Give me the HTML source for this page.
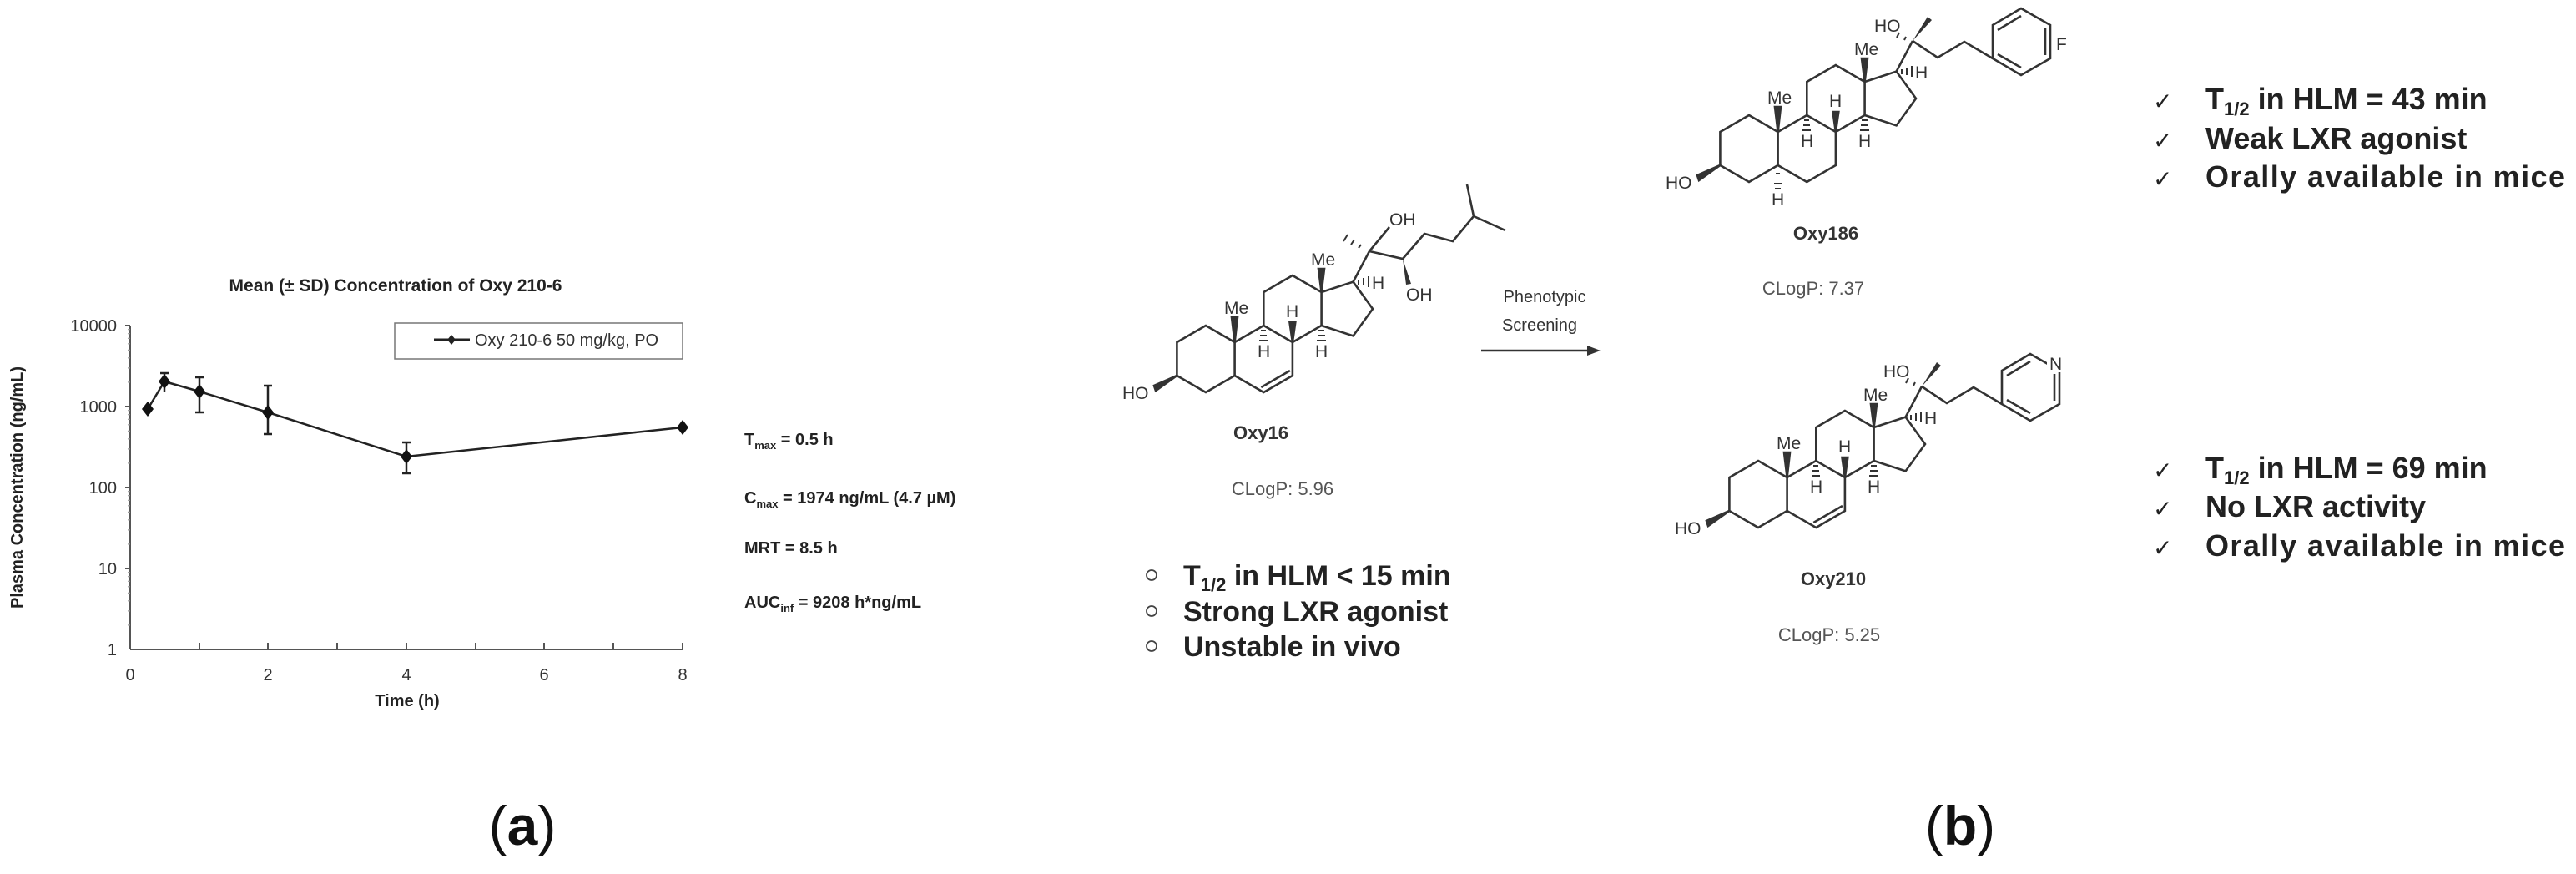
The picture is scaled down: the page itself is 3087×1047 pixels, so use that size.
<!DOCTYPE html>
<html><head><meta charset="utf-8"><style>
html,body{margin:0;padding:0;background:#fff;}
svg{display:block;}
text{font-family:"Liberation Sans",sans-serif;}
</style></head><body>
<svg width="3087" height="1047" viewBox="0 0 3087 1047" xmlns="http://www.w3.org/2000/svg">
<defs>
<g id="ster" stroke="#333" stroke-width="2.6" fill="none">
  <polyline points="34.6,-20 0,-40 -34.6,-20 -34.6,20 0,40 34.6,20 34.6,-20"/>
  <polyline points="34.6,-20 69.3,-40 103.9,-20 103.9,20 69.3,40 34.6,20"/>
  <polyline points="69.3,-40 69.3,-80 103.9,-100 138.6,-80 138.6,-40 103.9,-20"/>
  <polyline points="138.6,-80 176.6,-92.4 200,-60 176.6,-27.6 138.6,-40"/>
  <line x1="176.6" y1="-92.4" x2="196" y2="-129"/>
  <polygon points="-34.6,20 -62,32 -60,38" fill="#333"/>
  <polygon points="34.6,-20 31,-50 38,-50" fill="#333"/>
  <polygon points="138.6,-80 135,-108 142,-108" fill="#333"/>
  <polygon points="103.9,-20 100.5,-44 107.3,-44" fill="#333"/>
  <g stroke-width="2">
   <line x1="66" y1="-34" x2="72" y2="-34"/><line x1="65" y1="-28" x2="73" y2="-28"/><line x1="64" y1="-22" x2="74" y2="-22"/>
   <line x1="135" y1="-34" x2="142" y2="-34"/><line x1="134" y1="-28" x2="143" y2="-28"/><line x1="133" y1="-22" x2="144" y2="-22"/>
   <line x1="183" y1="-95" x2="183" y2="-89"/><line x1="189" y1="-97" x2="189" y2="-88"/><line x1="195" y1="-99" x2="195" y2="-86"/>
  </g>
</g>
<g id="stxt" fill="#333" stroke="none" font-size="21">
  <text x="-100" y="48">HO</text>
  <text x="22" y="-54">Me</text>
  <text x="126" y="-112">Me</text>
  <text x="96" y="-50">H</text>
  <text x="62" y="-2">H</text>
  <text x="131" y="-2">H</text>
  <text x="199" y="-84">H</text>
</g>
</defs>

<!-- ===== (a) plot ===== -->
<text x="474" y="349" font-size="21" font-weight="bold" text-anchor="middle" fill="#222">Mean (± SD) Concentration of Oxy 210-6</text>
<g stroke="#555" stroke-width="2" fill="none">
  <line x1="156" y1="390" x2="156" y2="778"/>
  <line x1="156" y1="778" x2="818" y2="778"/>
  <line x1="150" y1="390" x2="156" y2="390"/><line x1="150" y1="487" x2="156" y2="487"/>
  <line x1="150" y1="584" x2="156" y2="584"/><line x1="150" y1="681" x2="156" y2="681"/>
  <line x1="156" y1="778" x2="156" y2="770"/><line x1="239" y1="778" x2="239" y2="770"/>
  <line x1="321" y1="778" x2="321" y2="770"/><line x1="404" y1="778" x2="404" y2="770"/>
  <line x1="487" y1="778" x2="487" y2="770"/><line x1="570" y1="778" x2="570" y2="770"/>
  <line x1="652" y1="778" x2="652" y2="770"/><line x1="735" y1="778" x2="735" y2="770"/>
  <line x1="818" y1="778" x2="818" y2="770"/>
</g>
<g stroke="#999" stroke-width="1.2">
  <path d="M153 748.9h3M153 731.9h3M153 719.8h3M153 710.4h3M153 702.8h3M153 696.3h3M153 690.7h3M153 685.7h3
           M153 651.9h3M153 634.9h3M153 622.8h3M153 613.4h3M153 605.8h3M153 599.3h3M153 593.7h3M153 588.7h3
           M153 554.9h3M153 537.9h3M153 525.8h3M153 516.4h3M153 508.8h3M153 502.3h3M153 496.7h3M153 491.7h3
           M153 457.9h3M153 440.9h3M153 428.8h3M153 419.4h3M153 411.8h3M153 405.3h3M153 399.7h3M153 394.7h3"/>
</g>
<g font-size="20" fill="#333" text-anchor="end">
  <text x="140" y="397">10000</text><text x="140" y="494">1000</text>
  <text x="140" y="591">100</text><text x="140" y="688">10</text><text x="140" y="785">1</text>
</g>
<g font-size="20" fill="#333" text-anchor="middle">
  <text x="156" y="815">0</text><text x="321" y="815">2</text><text x="487" y="815">4</text>
  <text x="652" y="815">6</text><text x="818" y="815">8</text>
</g>
<text x="488" y="846" font-size="20" font-weight="bold" fill="#222" text-anchor="middle">Time (h)</text>
<text transform="translate(27,584) rotate(-90)" font-size="20" font-weight="bold" fill="#222" text-anchor="middle">Plasma Concentration (ng/mL)</text>
<rect x="473" y="387" width="345" height="43" fill="#fff" stroke="#777" stroke-width="1.5"/>
<line x1="520" y1="407" x2="563" y2="407" stroke="#222" stroke-width="3"/>
<polygon points="541,401 546,407 541,413 536,407" fill="#222"/>
<text x="569" y="414" font-size="20" fill="#333">Oxy 210-6 50 mg/kg, PO</text>
<g stroke="#222" stroke-width="2.5" fill="none">
  <polyline points="197,457 239,469 321,494 487,547 818,512"/>
  <line x1="177" y1="490" x2="197" y2="457"/>
  <path d="M197 447V469M192 447h10M239 452V494M234 452h10M234 494h10M321 462V520M316 462h10M316 520h10M487 530V567M482 530h10M482 567h10"/>
</g>
<g fill="#111">
  <polygon points="177,481 184,490 177,499 170,490"/>
  <polygon points="197,448 204,457 197,466 190,457"/>
  <polygon points="239,460 246,469 239,478 232,469"/>
  <polygon points="321,485 328,494 321,503 314,494"/>
  <polygon points="487,538 494,547 487,556 480,547"/>
  <polygon points="818,503 825,512 818,521 811,512"/>
</g>
<g font-size="20" font-weight="bold" fill="#222">
  <text x="892" y="533">T<tspan font-size="13" dy="5">max</tspan><tspan dy="-5"> = 0.5 h</tspan></text>
  <text x="892" y="603">C<tspan font-size="13" dy="5">max</tspan><tspan dy="-5"> = 1974 ng/mL (4.7 µM)</tspan></text>
  <text x="892" y="663">MRT = 8.5 h</text>
  <text x="892" y="728">AUC<tspan font-size="13" dy="5">inf</tspan><tspan dy="-5"> = 9208 h*ng/mL</tspan></text>
</g>
<text x="626" y="1012" font-size="66" font-family="Liberation Serif" fill="#111" text-anchor="middle">(<tspan font-weight="bold">a</tspan>)</text>

<!-- ===== (b) ===== -->
<g transform="translate(1445,430)">
  <use href="#ster"/><use href="#stxt"/>
  <line x1="69.3" y1="40" x2="103.9" y2="20" stroke="#333" stroke-width="2.6" transform="translate(-3,-6)"/>
  <g stroke="#333" stroke-width="2.6" fill="none">
    <polyline points="196,-129 236,-120 262,-150 296,-141 321,-171 313,-209"/>
    <line x1="321" y1="-171" x2="359" y2="-154"/>
    <line x1="196" y1="-129" x2="220" y2="-158"/>
  </g>
  <g stroke="#333" stroke-width="2"><line x1="186" y1="-137" x2="183" y2="-133"/><line x1="178" y1="-143" x2="174" y2="-137"/><line x1="170" y1="-149" x2="165" y2="-141"/></g>
  <polygon points="236,-120 246,-90 240,-89" fill="#333"/>
  <g fill="#333" font-size="21"><text x="220" y="-160">OH</text><text x="240" y="-70">OH</text></g>
</g>
<text x="1511" y="526" font-size="22" font-weight="bold" fill="#333" text-anchor="middle">Oxy16</text>
<text x="1537" y="593" font-size="22" fill="#555" text-anchor="middle">CLogP: 5.96</text>
<line x1="1775" y1="420" x2="1905" y2="420" stroke="#333" stroke-width="2.5"/>
<polygon points="1918,420 1902,414 1902,426" fill="#333"/>
<text x="1851" y="362" font-size="20" fill="#333" text-anchor="middle">Phenotypic</text>
<text x="1845" y="396" font-size="20" fill="#333" text-anchor="middle">Screening</text>
<g fill="none" stroke="#444" stroke-width="1.8"><circle cx="1380" cy="689" r="6"/><circle cx="1380" cy="732" r="6"/><circle cx="1380" cy="774" r="6"/></g>
<g font-size="34" font-weight="bold" fill="#222">
  <text x="1418" y="701">T<tspan font-size="22" dy="7">1/2</tspan><tspan dy="-7"> in HLM &lt; 15 min</tspan></text>
  <text x="1418" y="744">Strong LXR agonist</text>
  <text x="1418" y="786">Unstable in vivo</text>
</g>

<!-- Oxy186 -->
<g transform="translate(2096,178)">
  <use href="#ster"/><use href="#stxt"/>
  <g stroke="#333" stroke-width="2"><line x1="31" y1="48" x2="38" y2="48"/><line x1="30" y1="42" x2="39" y2="42"/><line x1="32" y1="30" x2="37" y2="30"/></g>
  <text x="27" y="68" font-size="21" fill="#333">H</text>
  <g stroke="#333" stroke-width="2.6" fill="none">
    <polyline points="196,-129 226,-109 258,-128 292,-108"/>
    <polygon points="292,-108 292,-148 326,-168 361,-148 361,-108 326,-88"/>
    <line x1="298" y1="-142" x2="326" y2="-159"/><line x1="355" y1="-112" x2="355" y2="-144"/><line x1="298" y1="-113" x2="326" y2="-97"/>
  </g>
  <polygon points="196,-129 214,-158 219,-154" fill="#333"/>
  <g stroke="#333" stroke-width="2"><line x1="188" y1="-134" x2="186" y2="-130"/><line x1="180" y1="-139" x2="177" y2="-133"/></g>
  <g fill="#333" font-size="21"><text x="150" y="-140">HO</text><text x="368" y="-118">F</text></g>
</g>
<text x="2188" y="287" font-size="22" font-weight="bold" fill="#333" text-anchor="middle">Oxy186</text>
<text x="2173" y="353" font-size="22" fill="#555" text-anchor="middle">CLogP: 7.37</text>

<!-- Oxy210 -->
<g transform="translate(2107,592)">
  <use href="#ster"/><use href="#stxt"/>
  <line x1="69.3" y1="40" x2="103.9" y2="20" stroke="#333" stroke-width="2.6" transform="translate(-3,-6)"/>
  <g stroke="#333" stroke-width="2.6" fill="none">
    <polyline points="196,-129 226,-109 258,-128 292,-108"/>
    <polygon points="292,-108 292,-148 326,-168 361,-148 361,-108 326,-88"/>
    <line x1="298" y1="-142" x2="326" y2="-159"/><line x1="355" y1="-112" x2="355" y2="-144"/><line x1="298" y1="-113" x2="326" y2="-97"/>
  </g>
  <rect x="346" y="-168" width="22" height="22" fill="#fff"/>
  <polygon points="196,-129 214,-158 219,-154" fill="#333"/>
  <g stroke="#333" stroke-width="2"><line x1="188" y1="-134" x2="186" y2="-130"/><line x1="180" y1="-139" x2="177" y2="-133"/></g>
  <g fill="#333" font-size="21"><text x="150" y="-140">HO</text><text x="349" y="-149">N</text></g>
</g>
<text x="2197" y="701" font-size="22" font-weight="bold" fill="#333" text-anchor="middle">Oxy210</text>
<text x="2192" y="768" font-size="22" fill="#555" text-anchor="middle">CLogP: 5.25</text>

<g font-size="36" font-weight="bold" fill="#222">
  <text x="2580" y="131" font-weight="normal" font-size="28">✓</text>
  <text x="2580" y="178" font-weight="normal" font-size="28">✓</text>
  <text x="2580" y="224" font-weight="normal" font-size="28">✓</text>
  <text x="2643" y="131">T<tspan font-size="22" dy="7">1/2</tspan><tspan dy="-7"> in HLM = 43 min</tspan></text>
  <text x="2643" y="178">Weak LXR agonist</text>
  <text x="2643" y="224" textLength="431">Orally available in mice</text>
  <text x="2580" y="573" font-weight="normal" font-size="28">✓</text>
  <text x="2580" y="619" font-weight="normal" font-size="28">✓</text>
  <text x="2580" y="666" font-weight="normal" font-size="28">✓</text>
  <text x="2643" y="573">T<tspan font-size="22" dy="7">1/2</tspan><tspan dy="-7"> in HLM = 69 min</tspan></text>
  <text x="2643" y="619">No LXR activity</text>
  <text x="2643" y="666" textLength="431">Orally available in mice</text>
</g>
<text x="2349" y="1012" font-size="66" font-family="Liberation Serif" fill="#111" text-anchor="middle">(<tspan font-weight="bold">b</tspan>)</text>
</svg>
</body></html>
